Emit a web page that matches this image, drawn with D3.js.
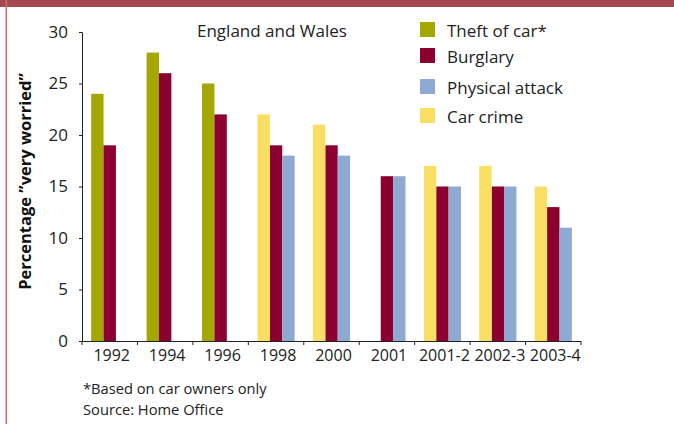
<!DOCTYPE html>
<html>
<head>
<meta charset="utf-8">
<script src="https://cdn.jsdelivr.net/npm/d3@7/dist/d3.min.js"></script>
<style>
  html, body { margin: 0; padding: 0; background: #fff; }
  svg { display: block; font-family: "Open Sans", "Noto Sans", sans-serif; }
</style>
</head>
<body>
<svg id="chart" width="674" height="424"></svg>
<script>
// Worry about crime, England and Wales (% "very worried")
const categories = ["1992", "1994", "1996", "1998", "2000", "2001", "2001-2", "2002-3", "2003-4"];
const theftOfCar     = [24, 28, 25, null, null, null, null, null, null];
const burglary       = [19, 26, 22, 19, 19, 16, 15, 15, 13];
const physicalAttack = [null, null, null, 18, 18, 16, 15, 15, 11];
const carCrime       = [null, null, null, 22, 21, null, 17, 17, 15];
const yTicks = [0, 5, 10, 15, 20, 25, 30];

// Each series sits in one of three slots within a year group
const series = [
  { name: "Theft of car*",   values: theftOfCar,     slot: 0, color: "#a3a700" },
  { name: "Burglary",        values: burglary,       slot: 1, color: "#8a002f" },
  { name: "Physical attack", values: physicalAttack, slot: 2, color: "#8eaad2" },
  { name: "Car crime",       values: carCrime,       slot: 0, color: "#f8de62" }
];

const svg = d3.select("#chart");
const W = 674, H = 424;
const plot = { left: 82, right: 581, top: 32, bottom: 341 };

// Frame: red band at top and thin rule down the left edge
svg.append("rect").attr("x", 0).attr("y", 0).attr("width", W).attr("height", 7).attr("fill", "#a5494f");
svg.append("rect").attr("x", 5.5).attr("y", 0).attr("width", 1.6).attr("height", H).attr("fill", "#cf6f6f");

const x = d3.scaleBand().domain(categories)
  .range([plot.left, plot.right]).paddingInner(0.33).paddingOuter(0.165);
const slot = d3.scaleBand().domain([0, 1, 2]).range([0, x.bandwidth()]);
const y = d3.scaleLinear().domain([0, 30]).range([plot.bottom, plot.top]);

// Bars
series.forEach(s => {
  svg.append("g").selectAll("rect")
    .data(categories.map((c, i) => ({ c, v: s.values[i] })).filter(d => d.v != null))
    .join("rect")
    .attr("x", d => x(d.c) + slot(s.slot))
    .attr("width", slot.bandwidth())
    .attr("y", d => y(d.v))
    .attr("height", d => y(0) - y(d.v))
    .attr("fill", s.color);
});

// Y axis
const yAxis = svg.append("g")
  .attr("transform", `translate(${plot.left},0)`)
  .call(d3.axisLeft(y).tickValues(yTicks).tickSize(3).tickPadding(11));
yAxis.select(".domain").attr("stroke", "#222");
yAxis.selectAll(".tick line").attr("stroke", "#222");
yAxis.selectAll("text").attr("font-size", 17).attr("fill", "#222")
  .attr("font-family", "'Open Sans', sans-serif");

// X axis: labels centred under groups, ticks on group boundaries
const xAxis = svg.append("g")
  .attr("transform", `translate(0,${plot.bottom})`)
  .call(d3.axisBottom(x).tickSize(0).tickPadding(9).tickSizeOuter(0));
xAxis.select(".domain").attr("d", `M${plot.left},0.5H${plot.right}`).attr("stroke", "#222");
xAxis.selectAll("text").attr("font-size", 16).attr("fill", "#222").attr("dx", 2)
  .attr("font-family", "'Open Sans', sans-serif");
const step = x.step();
const bounds = d3.range(categories.length + 1).map(i => plot.left + i * step);
xAxis.selectAll(".bound").data(bounds).join("line")
  .attr("class", "bound")
  .attr("x1", d => d).attr("x2", d => d)
  .attr("y1", 0).attr("y2", 4)
  .attr("stroke", "#222");

// Y axis title
svg.append("text")
  .attr("transform", `translate(31,${(plot.top + plot.bottom) / 2 - 5}) rotate(-90)`)
  .attr("text-anchor", "middle")
  .attr("font-size", 16.5).attr("font-weight", "bold").attr("fill", "#111")
  .text("Percentage \u201Dvery worried\u201D");

// Title inside the plot
svg.append("text")
  .attr("x", 197).attr("y", 37)
  .attr("font-size", 17).attr("fill", "#222")
  .text("England and Wales");

// Legend
const legendRowY = [37, 63, 94, 123];
const legend = svg.append("g");
series.forEach((s, i) => {
  legend.append("rect").attr("x", 420).attr("y", legendRowY[i] - 15)
    .attr("width", 15).attr("height", 15).attr("fill", s.color);
  legend.append("text").attr("x", 447).attr("y", legendRowY[i])
    .attr("font-size", 17).attr("fill", "#222").text(s.name);
});

// Footnotes
svg.append("text").attr("x", 83).attr("y", 394).attr("font-size", 14.7).attr("fill", "#222")
  .text("*Based on car owners only");
svg.append("text").attr("x", 83).attr("y", 415).attr("font-size", 14.7).attr("fill", "#222")
  .text("Source: Home Office");
</script>
</body>
</html>
